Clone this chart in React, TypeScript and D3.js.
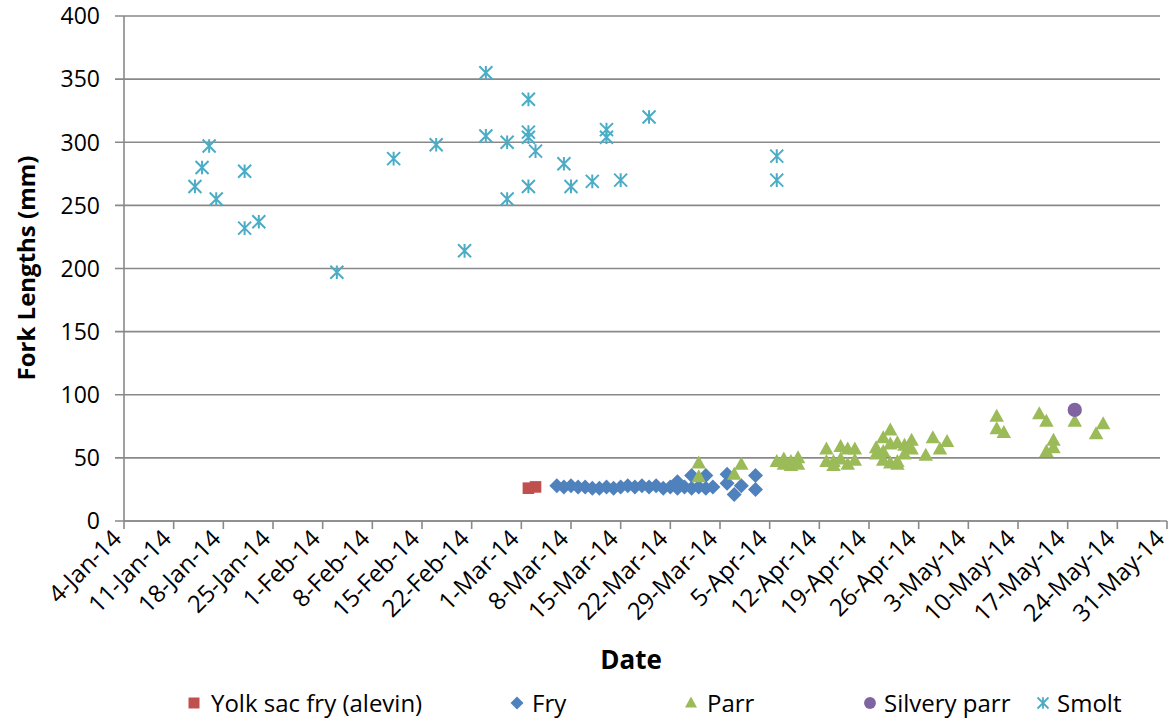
import React from "react";
import * as d3 from "d3";

type Pt = [string, number];

const yolkSacFry: Pt[] = [
  ["2014-03-02", 26], ["2014-03-03", 27],
];

const fry: Pt[] = [
  ["2014-03-06", 28], ["2014-03-07", 27], ["2014-03-08", 28], ["2014-03-09", 27],
  ["2014-03-10", 27], ["2014-03-11", 26], ["2014-03-12", 26], ["2014-03-13", 27],
  ["2014-03-14", 26], ["2014-03-15", 27], ["2014-03-16", 28], ["2014-03-17", 27],
  ["2014-03-18", 28], ["2014-03-19", 27], ["2014-03-20", 28], ["2014-03-21", 26],
  ["2014-03-22", 27], ["2014-03-23", 31], ["2014-03-23", 26], ["2014-03-24", 27],
  ["2014-03-25", 36], ["2014-03-25", 26], ["2014-03-26", 27], ["2014-03-27", 36],
  ["2014-03-27", 26], ["2014-03-28", 27],
  ["2014-03-30", 37], ["2014-03-30", 30], ["2014-03-31", 21], ["2014-04-01", 28],
  ["2014-04-03", 36], ["2014-04-03", 25],
];

const parr: Pt[] = [
  ["2014-03-26", 46], ["2014-03-26", 35], ["2014-03-31", 37], ["2014-04-01", 45],
  ["2014-04-06", 47], ["2014-04-07", 49], ["2014-04-07", 45], ["2014-04-08", 47],
  ["2014-04-08", 44], ["2014-04-09", 50], ["2014-04-09", 45],
  ["2014-04-13", 57], ["2014-04-13", 47], ["2014-04-14", 47], ["2014-04-14", 44],
  ["2014-04-15", 59], ["2014-04-15", 49], ["2014-04-16", 57], ["2014-04-16", 45],
  ["2014-04-17", 57], ["2014-04-17", 48],
  ["2014-04-20", 58], ["2014-04-20", 53], ["2014-04-21", 66], ["2014-04-21", 55],
  ["2014-04-21", 48], ["2014-04-22", 72], ["2014-04-22", 61], ["2014-04-22", 46],
  ["2014-04-23", 62], ["2014-04-23", 47], ["2014-04-23", 45], ["2014-04-24", 60],
  ["2014-04-24", 53], ["2014-04-25", 64], ["2014-04-25", 57],
  ["2014-04-27", 52], ["2014-04-28", 66], ["2014-04-29", 57], ["2014-04-30", 63],
  ["2014-05-07", 83], ["2014-05-07", 73], ["2014-05-08", 70],
  ["2014-05-13", 85], ["2014-05-14", 79], ["2014-05-14", 55], ["2014-05-15", 64],
  ["2014-05-15", 58], ["2014-05-18", 79], ["2014-05-21", 69], ["2014-05-22", 77],
];

const silveryParr: Pt[] = [["2014-05-18", 88]];

const smolt: Pt[] = [
  ["2014-01-14", 265], ["2014-01-15", 280], ["2014-01-16", 297], ["2014-01-17", 255],
  ["2014-01-21", 277], ["2014-01-21", 232], ["2014-01-23", 237], ["2014-02-03", 197],
  ["2014-02-11", 287], ["2014-02-17", 298], ["2014-02-21", 214], ["2014-02-24", 355],
  ["2014-02-24", 305], ["2014-02-27", 300], ["2014-02-27", 255], ["2014-03-02", 334],
  ["2014-03-02", 308], ["2014-03-02", 304], ["2014-03-02", 265], ["2014-03-03", 293],
  ["2014-03-07", 283], ["2014-03-08", 265], ["2014-03-11", 269], ["2014-03-13", 310],
  ["2014-03-13", 304], ["2014-03-15", 270], ["2014-03-19", 320], ["2014-04-06", 289],
  ["2014-04-06", 270],
];

const yTicks = [0, 50, 100, 150, 200, 250, 300, 350, 400];
const xStart = "2014-01-04";
const xEnd = "2014-05-31";
const legendLabels = ["Yolk sac fry (alevin)", "Fry", "Parr", "Silvery parr", "Smolt"];

const COLORS = {
  yolk: "#C0504D",
  fry: "#4F81BD",
  parr: "#9BBB59",
  silvery: "#8064A2",
  smolt: "#4BACC6",
  grid: "#898989",
};

const FONT = "'Open Sans', 'Noto Sans', sans-serif";

const parse = d3.utcParse("%Y-%m-%d");

const starPath = (r: number) =>
  `M${-r},${-r}L${r},${r}M${-r},${r}L${r},${-r}M0,${-r * 1.05}L0,${r * 1.05}`;
const diamondPath = (r: number) => `M0,${-r}L${r},0L0,${r}L${-r},0Z`;
const trianglePath = (w: number, h: number) =>
  `M0,${-h * 0.58}L${w / 2},${h * 0.42}L${-w / 2},${h * 0.42}Z`;
const squarePath = (r: number) => `M${-r},${-r}H${r}V${r}H${-r}Z`;

export default function App() {
  const W = 1172;
  const H = 721;
  const left = 124;
  const right = 1167;
  const top = 16;
  const bottom = 521;

  const x = d3.scaleUtc().domain([parse(xStart)!, parse(xEnd)!]).range([left, right]);
  const y = d3.scaleLinear().domain([0, 400]).range([bottom, top]);

  const xTicks = d3.utcDay.range(parse(xStart)!, d3.utcDay.offset(parse(xEnd)!, 1), 7);
  const fmt = d3.utcFormat("%-d-%b-%y");

  const sq = squarePath(5.8);
  const dia = diamondPath(7.5);
  const tri = trianglePath(14.5, 13);
  const circ = d3.symbol().type(d3.symbolCircle).size(160)()!;
  const star = starPath(6.5);

  const pos = (p: Pt) => `translate(${x(parse(p[0])!)},${y(p[1])})`;

  const legendMarkerX = [194, 517, 691, 870, 1043];
  const legendTextX = [211, 532, 707, 884, 1057];
  const legendY = 703;

  const legendMarker = (i: number, cx: number) => {
    const t = `translate(${cx},${legendY})`;
    if (i === 0) return <path d={squarePath(5.5)} transform={t} fill={COLORS.yolk} />;
    if (i === 1) return <path d={diamondPath(6.5)} transform={t} fill={COLORS.fry} />;
    if (i === 2) return <path d={trianglePath(12, 11)} transform={t} fill={COLORS.parr} />;
    if (i === 3) return <path d={d3.symbol().type(d3.symbolCircle).size(110)()!} transform={t} fill={COLORS.silvery} />;
    return <path d={starPath(5.5)} transform={t} stroke={COLORS.smolt} strokeWidth={1.8} fill="none" />;
  };

  return (
    <svg width={W} height={H} style={{ position: "absolute", left: 0, top: 0, background: "#fff" }} fontFamily={FONT}>
      <rect width={W} height={H} fill="#fff" />
      {yTicks.map((t) => (
        <line key={"g" + t} x1={left - 9} x2={right - 7} y1={y(t)} y2={y(t)} stroke={COLORS.grid} strokeWidth={1.6} />
      ))}
      <line x1={left} x2={left} y1={top} y2={bottom} stroke={COLORS.grid} strokeWidth={1.6} />
      <line x1={left} x2={right} y1={bottom} y2={bottom} stroke={COLORS.grid} strokeWidth={1.6} />
      {xTicks.map((d, i) => (
        <line key={"xt" + i} x1={x(d)} x2={x(d)} y1={bottom} y2={bottom + 8} stroke={COLORS.grid} strokeWidth={1.6} />
      ))}
      {yTicks.map((t) => (
        <text key={"yl" + t} x={100} y={y(t)} dy="0.36em" textAnchor="end" fontSize={23} fill="#000">
          {t}
        </text>
      ))}
      {xTicks.map((d, i) => (
        <text
          key={"xl" + i}
          transform={`translate(${x(d) - 1},${bottom + 19}) rotate(-45)`}
          textAnchor="end"
          fontSize={24}
          fill="#000"
        >
          {fmt(d)}
        </text>
      ))}
      <g>
        {yolkSacFry.map((p, i) => <path key={"y" + i} d={sq} transform={pos(p)} fill={COLORS.yolk} />)}
      </g>
      <g>
        {fry.map((p, i) => <path key={"f" + i} d={dia} transform={pos(p)} fill={COLORS.fry} />)}
      </g>
      <g>
        {parr.map((p, i) => <path key={"p" + i} d={tri} transform={pos(p)} fill={COLORS.parr} />)}
      </g>
      <g>
        {silveryParr.map((p, i) => <path key={"s" + i} d={circ} transform={pos(p)} fill={COLORS.silvery} />)}
      </g>
      <g>
        {smolt.map((p, i) => (
          <path key={"m" + i} d={star} transform={pos(p)} stroke={COLORS.smolt} strokeWidth={2} fill="none" />
        ))}
      </g>
      <text
        transform={`translate(35,268) rotate(-90)`}
        textAnchor="middle"
        fontSize={24}
        fontWeight="bold"
        fill="#000"
      >
        Fork Lengths (mm)
      </text>
      <text x={631} y={669} textAnchor="middle" fontSize={26} fontWeight="bold" fill="#000">
        Date
      </text>
      {legendLabels.map((l, i) => (
        <g key={"lg" + i}>
          {legendMarker(i, legendMarkerX[i])}
          <text x={legendTextX[i]} y={legendY} dy="0.36em" fontSize={24} fill="#000">
            {l}
          </text>
        </g>
      ))}
    </svg>
  );
}
